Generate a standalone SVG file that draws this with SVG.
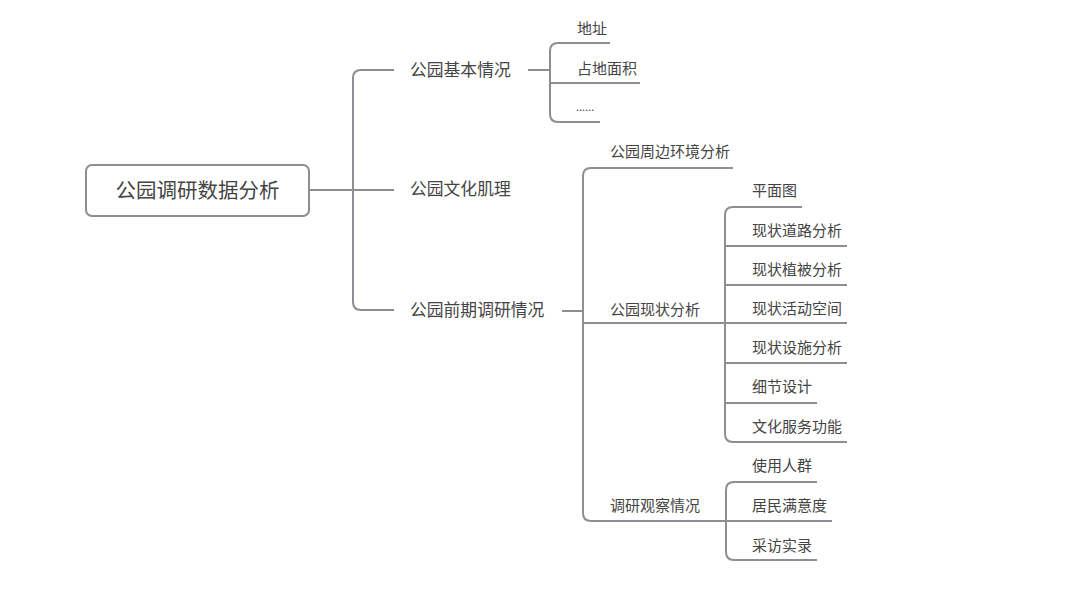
<svg xmlns="http://www.w3.org/2000/svg" width="1080" height="596" viewBox="0 0 1080 596">
<style>
text{font-family:"Noto Sans CJK SC","Microsoft YaHei",sans-serif;fill:#444}
.l1{font-size:16.8px}
.l2{font-size:15px}
.root{font-size:20.5px}
.ln{fill:none;stroke:#8d8d93;stroke-width:2}
</style>
<rect width="1080" height="596" fill="#fff"/>
<g id="connectors">
<path class="ln" d="M309 190 H394"/>
<path class="ln" d="M394 70 H361 Q353 70 353 78 V302 Q353 310 361 310 H394"/>
<path class="ln" d="M528 70 H550"/>
<path class="ln" d="M610 43 H558 Q550 43 550 51 V114 Q550 122 558 122 H600"/>
<path class="ln" d="M550 83 H640"/>
<path class="ln" d="M562 311 H583"/>
<path class="ln" d="M733 168 H591 Q583 168 583 176 V513 Q583 521 591 521 H726"/>
<path class="ln" d="M583 323 H847"/>
<path class="ln" d="M802 207 H733 Q725 207 725 215 V434 Q725 442 733 442 H847"/>
<path class="ln" d="M725 246 H847 M725 285 H847 M725 363 H847 M725 403 H817"/>
<path class="ln" d="M817 482 H734 Q726 482 726 490 V552 Q726 560 734 560 H817"/>
<path class="ln" d="M726 521 H832"/>
</g>
<g id="root"><rect x="86" y="165" width="223" height="51" rx="6" fill="#fff" stroke="#8d8d93" stroke-width="2"/><text class="root" x="197.5" y="198" text-anchor="middle">公园调研数据分析</text></g>
<g id="n-jiben"><text class="l1" x="410" y="76">公园基本情况</text></g>
<g id="n-wenhua"><text class="l1" x="410" y="195">公园文化肌理</text></g>
<g id="n-qianqi"><text class="l1" x="410" y="316">公园前期调研情况</text></g>
<g id="n-dizhi"><text class="l2" x="577" y="34">地址</text></g>
<g id="n-mianji"><text class="l2" x="577" y="74">占地面积</text></g>
<g id="n-etc"><text class="l2" x="576" y="111" style="font-size:11px">......</text></g>
<g id="n-zhoubian"><text class="l2" x="610" y="157">公园周边环境分析</text></g>
<g id="n-xianzhuang"><text class="l2" x="610" y="315">公园现状分析</text></g>
<g id="n-guancha"><text class="l2" x="610" y="511">调研观察情况</text></g>
<g id="n-pingmian"><text class="l2" x="752" y="196">平面图</text></g>
<g id="n-daolu"><text class="l2" x="752" y="236">现状道路分析</text></g>
<g id="n-zhibei"><text class="l2" x="752" y="275">现状植被分析</text></g>
<g id="n-huodong"><text class="l2" x="752" y="314">现状活动空间</text></g>
<g id="n-sheshi"><text class="l2" x="752" y="353">现状设施分析</text></g>
<g id="n-xijie"><text class="l2" x="752" y="392">细节设计</text></g>
<g id="n-fuwu"><text class="l2" x="752" y="432">文化服务功能</text></g>
<g id="n-renqun"><text class="l2" x="752" y="471">使用人群</text></g>
<g id="n-manyi"><text class="l2" x="752" y="511">居民满意度</text></g>
<g id="n-caifang"><text class="l2" x="752" y="551">采访实录</text></g>
</svg>
